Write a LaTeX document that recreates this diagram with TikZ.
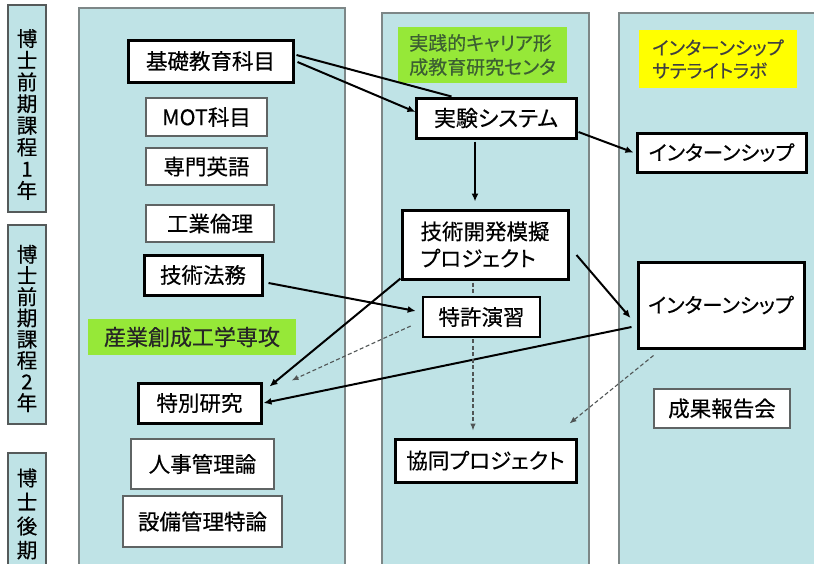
\documentclass[tikz,border=0pt]{standalone}
\usepackage{fontspec}
\setmainfont{Noto Sans CJK JP}[RawFeature=+palt,FakeBold=0.4]
\usetikzlibrary{arrows.meta,calc}
\definecolor{panelfill}{RGB}{191,227,230}
\definecolor{panelline}{RGB}{125,135,135}
\definecolor{yearline}{RGB}{85,90,90}
\definecolor{boxgray}{RGB}{95,100,100}
\definecolor{tagGreen}{RGB}{150,232,56}
\definecolor{tagYellow}{RGB}{255,255,0}
\definecolor{tagText}{RGB}{60,95,50}
\definecolor{dashgray}{RGB}{80,85,85}
\begin{document}
\begin{tikzpicture}[x=1pt,y=-1pt,
  bigfont/.style={font=\fontsize{21.5}{25}\selectfont},
  thickbox/.style={draw=black,line width=3pt,fill=white,inner sep=0pt,bigfont},
  thinbox/.style={draw=boxgray,line width=1.4pt,fill=white,inner sep=0pt,bigfont},
  greentag/.style={fill=tagGreen,inner sep=0pt},
  yellowtag/.style={fill=tagYellow,inner sep=0pt},
  yearbox/.style={draw=yearline,line width=1.2pt,fill=panelfill,inner sep=0pt,minimum width=38pt},
  panel/.style={draw=panelline,line width=1.2pt,fill=panelfill},
  plainlink/.style={line width=2pt},
  link/.style={line width=2pt,-{Latex[length=8pt,width=7pt]}},
  dseg/.style={draw=dashgray,line width=1.1pt,dash pattern=on 4pt off 2.5pt},
  dlink/.style={dseg,-{Latex[length=7pt,width=5.5pt]}},
]
\useasboundingbox (0,0) rectangle (814,563);
\clip (0,0) rectangle (814,563);
\fill[white] (0,0) rectangle (814,563);

% panels
\draw[panel] (79,8) rectangle (345,600);
\draw[panel] (382,13) rectangle (589,600);
\draw[panel] (619,13) rectangle (840,600);

% year labels
\node[yearbox,minimum height=207pt] (y1) at (27,108.5)
  {\parbox{26pt}{\centering\fontsize{20.5}{21.7}\selectfont\vspace*{12pt}博\\士\\前\\期\\課\\程\\1\\年}};
\node[yearbox,minimum height=199pt] (y2) at (27,324.5)
  {\parbox{26pt}{\centering\fontsize{20.5}{21.2}\selectfont\vspace*{8pt}博\\士\\前\\期\\課\\程\\2\\年}};
\node[yearbox,minimum height=122pt] (y3) at (27,514)
  {\parbox{26pt}{\centering\fontsize{20.5}{24}\selectfont 博\\士\\後\\期}};

% left column
\node[thickbox,minimum width=165pt,minimum height=42pt] (kiso) at (210.5,61) {基礎教育科目};
\node[thinbox,minimum width=121pt,minimum height=38pt] (mot) at (206.5,117) {MOT科目};
\node[thinbox,minimum width=121pt,minimum height=37pt] (senmon) at (206.5,166.5) {専門英語};
\node[thinbox,minimum width=128pt,minimum height=37pt] (kogyo) at (210,223.5) {工業倫理};
\node[thickbox,minimum width=118pt,minimum height=40pt] (homu) at (203,275) {技術法務};
\node[greentag,minimum width=208pt,minimum height=36pt,text=black!85,
  font=\fontsize{22}{26}\selectfont] (sangyo) at (192,337) {産業創成工学専攻};
\node[thickbox,minimum width=123pt,minimum height=40pt] (tokubetsu) at (199.5,403) {特別研究};
\node[thinbox,minimum width=143pt,minimum height=50pt] (jinji) at (202.5,464) {人事管理論};
\node[thinbox,minimum width=159pt,minimum height=51pt] (setsubi) at (202.5,521.5) {設備管理特論};

% middle column
\node[greentag,minimum width=169pt,minimum height=56pt,text=tagText,align=left,
  font=\fontsize{19}{24}\selectfont] (center) at (482.5,55) {実践的キャリア形\\成教育研究センタ};
\node[thickbox,minimum width=160pt,minimum height=40pt,font=\fontsize{22}{25}\selectfont] (jikken) at (496,118) {実験システム};
\node[thickbox,minimum width=166pt,minimum height=69pt,align=left,
  font=\fontsize{21.5}{27}\selectfont] (gijutsu) at (485,244.5) {技術開発模擬\\プロジェクト};
\node[thickbox,line width=2.6pt,minimum width=117pt,minimum height=40pt] (tokkyo) at (481.5,317) {特許演習};
\node[thickbox,minimum width=181pt,minimum height=43pt] (kyodo) at (485.5,460.5) {協同プロジェクト};

% right column
\node[yellowtag,minimum width=158pt,minimum height=58pt,text=black!75,align=left,
  font=\fontsize{18.5}{23}\selectfont] (sat) at (718,59) {インターンシップ\\サテライトラボ};
\node[thickbox,minimum width=169pt,minimum height=39pt,font=\fontsize{20.5}{23}\selectfont] (intern1) at (721.5,152.5) {インターンシップ};
\node[thickbox,minimum width=166pt,minimum height=86pt,font=\fontsize{20.5}{23}\selectfont] (intern2) at (721,305) {インターンシップ};
\node[thinbox,minimum width=136pt,minimum height=39pt] (seika) at (722,408.5) {成果報告会};

% connectors
\draw[plainlink] ($(kiso.east)+(2,-6)$) -- ($(jikken.north west)+(37,0)$);
\draw[link] ($(kiso.east)+(3,1)$) -- ($(jikken.west)+(1,-6)$);
\draw[link] ($(jikken.south)+(-21,2)$) -- ($(gijutsu.north)+(-10,-7)$);
\draw[link] ($(jikken.east)+(1,14)$) -- ($(intern1.west)+(-2,0)$);
\draw[link] ($(homu.east)+(5,8)$) -- ($(tokkyo.west)+(-6,-6)$);
\draw[link] ($(gijutsu.south west)+(0,-2)$) -- ($(tokubetsu.north east)+(7,5)$);
\draw[link] ($(intern2.west)+(-5,22)$) -- ($(tokubetsu.east)+(1,0)$);
\draw[link] ($(gijutsu.east)+(7,10.5)$) -- ($(intern2.west)+(-6,13)$);
\draw[dlink] ($(tokkyo.west)+(-11,9)$) -- ($(tokubetsu.north east)+(29,-1)$);
\draw[dseg] ($(gijutsu.south)+(-12,2)$) -- ($(tokkyo.north)+(-8.5,-1)$);
\draw[dlink] ($(tokkyo.south)+(-8.5,1)$) -- ($(kyodo.north)+(-12.5,-7)$);
\draw[dlink] ($(intern2.south west)+(17,6)$) -- ($(kyodo.north east)+(-8,-14)$);
\end{tikzpicture}
\end{document}
